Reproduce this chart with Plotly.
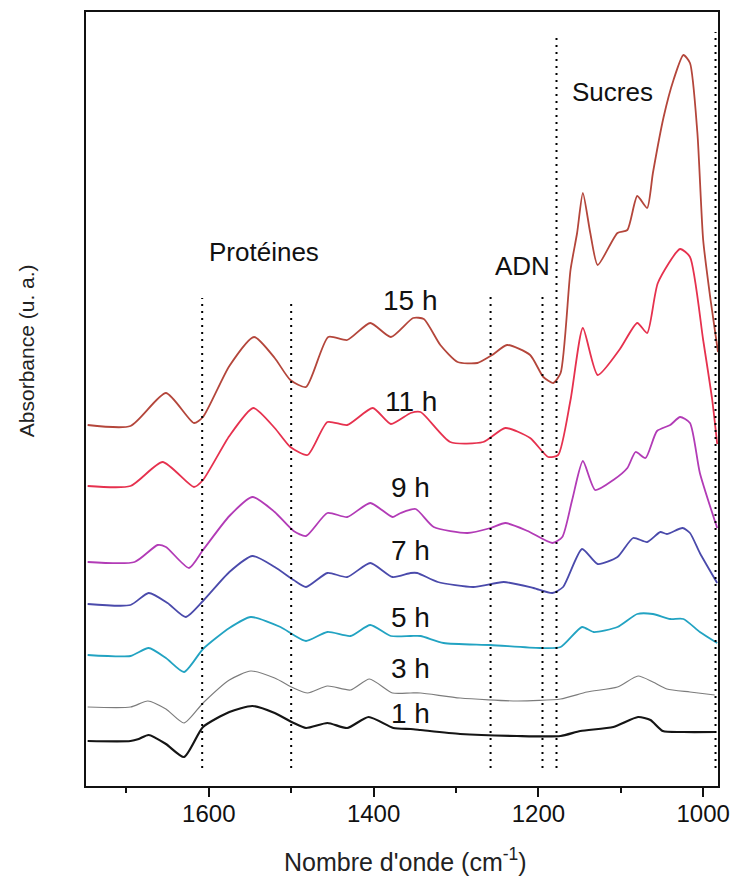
import plotly.graph_objects as go

# FTIR spectra of the culture at successive times (offset for readability)
hours = ["1 h", "3 h", "5 h", "7 h", "9 h", "11 h", "15 h"]
colors = ["#151515", "#7c7c7c", "#22a3c2", "#4a4aab", "#b23bb6", "#e6314e", "#b4463b"]
widths = [2.2, 1.2, 1.8, 1.8, 1.8, 1.8, 1.8]

wn_1h = [1747, 1695, 1685, 1673, 1652, 1630, 1607, 1575, 1547, 1520, 1497, 1482, 1456, 1432,
         1406, 1376, 1355, 1343, 1295, 1226, 1173, 1149, 1109, 1079, 1064, 1049, 1024, 985]
ab_1h = [0.45, 0.45, 0.47, 0.51, 0.42, 0.29, 0.59, 0.74, 0.80, 0.73, 0.63, 0.58, 0.63, 0.58,
         0.69, 0.58, 0.57, 0.56, 0.52, 0.50, 0.50, 0.55, 0.59, 0.69, 0.66, 0.55, 0.54, 0.54]

wn_3h = [1747, 1695, 1674, 1652, 1630, 1607, 1575, 1549, 1520, 1497, 1480, 1456, 1428, 1405,
         1377, 1355, 1343, 1295, 1226, 1173, 1141, 1104, 1079, 1061, 1044, 1016, 986]
ab_3h = [0.79, 0.79, 0.85, 0.77, 0.63, 0.83, 1.06, 1.15, 1.08, 0.98, 0.93, 1.00, 0.96, 1.07,
         0.93, 0.93, 0.93, 0.88, 0.85, 0.87, 0.94, 0.99, 1.10, 1.04, 0.97, 0.94, 0.91]

wn_5h = [1747, 1695, 1673, 1652, 1630, 1607, 1575, 1549, 1513, 1497, 1482, 1456, 1428, 1404,
         1379, 1355, 1343, 1315, 1258, 1198, 1173, 1147, 1133, 1104, 1080, 1061, 1040, 1024,
         1004, 983]
ab_5h = [1.31, 1.30, 1.38, 1.28, 1.14, 1.37, 1.58, 1.69, 1.59, 1.51, 1.45, 1.54, 1.50, 1.61,
         1.50, 1.50, 1.50, 1.43, 1.41, 1.38, 1.39, 1.59, 1.54, 1.59, 1.72, 1.72, 1.67, 1.67,
         1.54, 1.43]

wn_7h = [1747, 1695, 1673, 1650, 1628, 1607, 1575, 1547, 1520, 1497, 1482, 1456, 1432, 1404,
         1377, 1355, 1347, 1322, 1279, 1242, 1206, 1183, 1170, 1147, 1128, 1104, 1085, 1068,
         1052, 1044, 1025, 1016, 1004, 983]
ab_7h = [1.82, 1.81, 1.93, 1.83, 1.69, 1.85, 2.14, 2.30, 2.19, 2.06, 1.99, 2.13, 2.09, 2.23,
         2.09, 2.13, 2.13, 2.04, 1.99, 2.04, 1.98, 1.93, 1.99, 2.37, 2.22, 2.29, 2.48, 2.44,
         2.54, 2.52, 2.58, 2.53, 2.33, 2.03]

wn_9h = [1747, 1690, 1662, 1652, 1624, 1607, 1575, 1547, 1520, 1497, 1482, 1456, 1432, 1404,
         1377, 1367, 1349, 1327, 1286, 1258, 1240, 1213, 1183, 1171, 1159, 1146, 1131, 1109,
         1092, 1082, 1070, 1056, 1040, 1028, 1016, 1004, 983]
ab_9h = [2.24, 2.24, 2.41, 2.39, 2.18, 2.36, 2.70, 2.89, 2.74, 2.55, 2.50, 2.73, 2.69, 2.83,
         2.69, 2.73, 2.77, 2.59, 2.53, 2.58, 2.63, 2.55, 2.43, 2.49, 2.86, 3.25, 2.96, 3.06,
         3.18, 3.34, 3.28, 3.55, 3.61, 3.69, 3.63, 3.13, 2.58]

wn_11h = [1747, 1695, 1656, 1618, 1607, 1575, 1546, 1520, 1501, 1480, 1456, 1432, 1401, 1379,
          1355, 1343, 1307, 1267, 1240, 1210, 1188, 1176, 1161, 1146, 1128, 1101, 1080, 1068,
          1055, 1028, 1016, 1000, 989, 983]
ab_11h = [3.00, 3.00, 3.24, 2.99, 3.06, 3.50, 3.78, 3.58, 3.39, 3.31, 3.64, 3.61, 3.78, 3.62,
          3.73, 3.74, 3.44, 3.44, 3.58, 3.48, 3.29, 3.31, 3.86, 4.58, 4.11, 4.37, 4.63, 4.53,
          5.03, 5.37, 5.29, 4.46, 3.86, 3.42]

wn_15h = [1747, 1695, 1652, 1618, 1607, 1575, 1545, 1520, 1501, 1482, 1455, 1432, 1404, 1379,
          1352, 1339, 1319, 1298, 1274, 1256, 1238, 1210, 1194, 1182, 1173, 1161, 1153, 1146,
          1137, 1128, 1104, 1092, 1080, 1068, 1061, 1048, 1036, 1024, 1016, 1007, 1000, 991, 982]
ab_15h = [3.61, 3.60, 3.93, 3.63, 3.69, 4.20, 4.49, 4.28, 4.06, 3.99, 4.49, 4.46, 4.63, 4.49,
          4.68, 4.67, 4.41, 4.24, 4.23, 4.31, 4.41, 4.31, 4.09, 4.03, 4.13, 5.16, 5.53, 5.93,
          5.53, 5.21, 5.53, 5.56, 5.90, 5.78, 6.13, 6.69, 7.06, 7.31, 7.23, 6.53, 5.46, 4.86, 4.34]

wavenumbers = [wn_1h, wn_3h, wn_5h, wn_7h, wn_9h, wn_11h, wn_15h]
absorbances = [ab_1h, ab_3h, ab_5h, ab_7h, ab_9h, ab_11h, ab_15h]

# Band boundaries (cm-1) with the vertical extent of each dotted marker
band_lines = [1608, 1500, 1258, 1195, 1178, 985]
band_tops = [4.88, 4.87, 4.93, 4.93, 7.53, 7.54]
band_bottom = 0.18

# Region names and curve labels
regions = ["Protéines", "ADN", "Sucres"]
region_pos = [(1533, 5.34), (1219, 5.20), (1110, 6.94)]
label_pos = [(1355, 0.73), (1355, 1.18), (1355, 1.69), (1355, 2.36), (1355, 2.99),
             (1355, 3.85), (1355, 4.86)]

SANS = "Liberation Sans, Arial, sans-serif"

fig = go.Figure()
for name, wn, ab, col, w in zip(hours, wavenumbers, absorbances, colors, widths):
    fig.add_trace(go.Scatter(x=wn, y=ab, mode="lines", name=name,
                             line=dict(color=col, width=w, shape="spline", smoothing=0.6)))

for xv, top in zip(band_lines, band_tops):
    fig.add_shape(type="line", xref="x", yref="y", x0=xv, x1=xv, y0=band_bottom, y1=top,
                  line=dict(color="black", width=2, dash="2px,5px"))

for txt, (xv, yv) in zip(regions, region_pos):
    fig.add_annotation(x=xv, y=yv, xref="x", yref="y", text=txt, showarrow=False,
                       xanchor="center", yanchor="middle",
                       font=dict(family=SANS, size=26, color="#111"))
for txt, (xv, yv) in zip(hours, label_pos):
    fig.add_annotation(x=xv, y=yv, xref="x", yref="y", text=txt, showarrow=False,
                       xanchor="center", yanchor="middle",
                       font=dict(family=SANS, size=28, color="#111"))

# Axis titles
fig.add_annotation(x=0.506, y=-0.0956, xref="paper", yref="paper",
                   xanchor="center", yanchor="middle",
                   text="Nombre d'onde (cm<sup>-1</sup>)", showarrow=False,
                   font=dict(family=SANS, size=25, color="#222"))
fig.add_annotation(x=-0.095, y=0.563, xref="paper", yref="paper", textangle=-90,
                   xanchor="center", yanchor="middle",
                   text="Absorbance (u. a.)", showarrow=False,
                   font=dict(family=SANS, size=21, color="#222"))

fig.update_layout(
    width=734, height=880,
    margin=dict(l=86, r=16, t=12, b=94, autoexpand=False),
    paper_bgcolor="white", plot_bgcolor="white",
    showlegend=False,
    xaxis=dict(range=[1749, 982], showgrid=False, zeroline=False, automargin=False,
               showline=True, linecolor="#111", linewidth=1.8, mirror=True,
               ticks="outside", ticklen=9, tickwidth=1.5, tickcolor="#111",
               tick0=0, dtick=200, ticklabeloverflow="allow", ticklabelstandoff=-4,
               minor=dict(ticks="outside", ticklen=5, tickwidth=1.5, tickcolor="#111", dtick=100),
               tickfont=dict(family=SANS, size=24, color="#111")),
    yaxis=dict(range=[0, 7.74], showgrid=False, zeroline=False, showticklabels=False,
               automargin=False,
               showline=True, linecolor="#111", linewidth=1.8, mirror=True, ticks=""),
)

fig.write_html("out.html", config={"displayModeBar": False})
